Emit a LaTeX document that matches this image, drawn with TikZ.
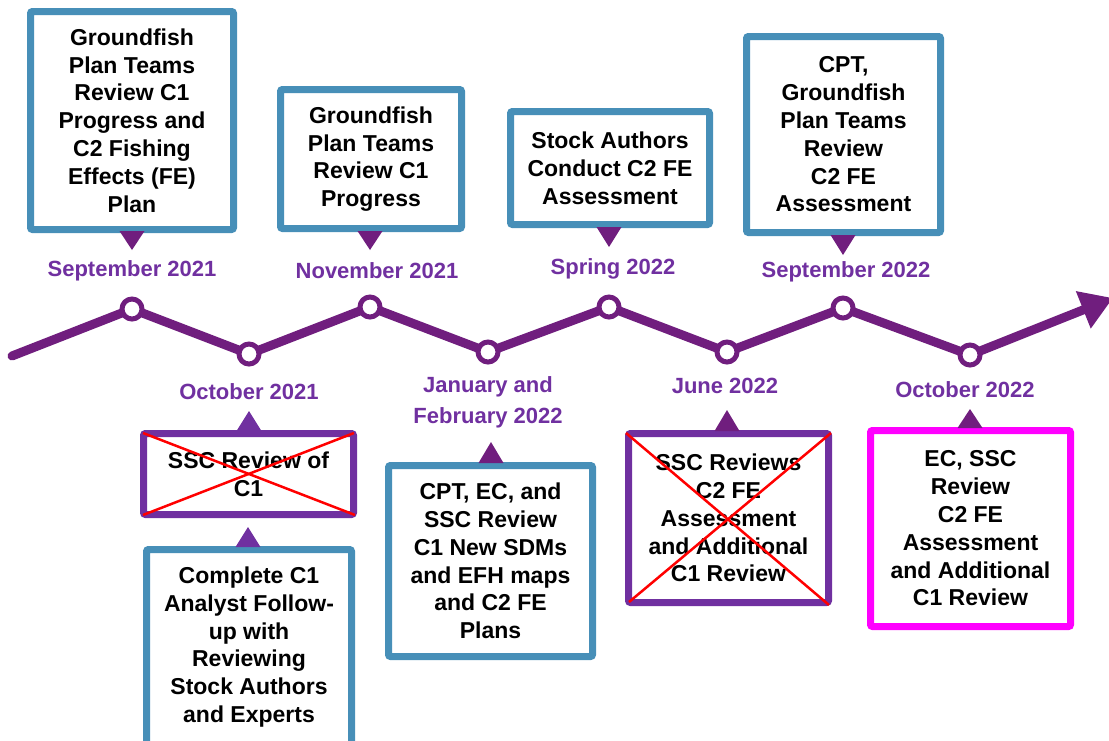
\documentclass[tikz,border=0pt]{standalone}
\usepackage{fontspec}
\setmainfont{Liberation Sans}
\usetikzlibrary{arrows.meta,calc}
\definecolor{tlpurple}{HTML}{701E7E}
\definecolor{labpurple}{HTML}{7030A0}
\definecolor{boxblue}{HTML}{478FB8}
\definecolor{boxmag}{HTML}{FF00FF}
\definecolor{xred}{HTML}{FF0000}
\newcommand\tridown[4]{\fill[#4] ({#1-12.5},#2) -- ({#1+12.5},#2) -- (#1,#3) -- cycle;}
\begin{document}
\begin{tikzpicture}[x=1pt,y=-1pt,
  every node/.style={font=\bfseries},
  evbox/.style={draw=boxblue,line width=7pt,fill=white,rounded corners=2pt,align=center,inner sep=0pt,
     font=\bfseries\fontsize{23}{27.8}\selectfont},
  xbox/.style={evbox,draw=labpurple},
  mbox/.style={evbox,draw=boxmag},
  datelab/.style={text=labpurple,align=center,inner sep=0pt,font=\bfseries\fontsize{22}{31}\selectfont},
  dot/.style={circle,draw=tlpurple,fill=white,line width=5pt,minimum size=20pt,inner sep=0pt},
  tline/.style={draw=tlpurple,line width=9pt,line cap=round,line join=round},
  xline/.style={draw=xred,line width=2.5pt}]
\useasboundingbox (0,0) rectangle (1109,740);

% timeline points
\coordinate (s) at (12,356);
\coordinate (p1) at (132,309);
\coordinate (p2) at (249,354);
\coordinate (p3) at (370,307);
\coordinate (p4) at (488,352);
\coordinate (p5) at (609,307);
\coordinate (p6) at (727,352);
\coordinate (p7) at (843,308);
\coordinate (p8) at (970,355);
\coordinate (e) at (1113,298);

\draw[tline,-{Triangle[length=32pt,width=38pt]}] (s) -- (p1) -- (p2) -- (p3) -- (p4) -- (p5) -- (p6) -- (p7) -- (p8) -- (e);

\foreach \i in {1,...,8} {\node[dot] (c\i) at (p\i) {};}

% upper boxes
\node[evbox,minimum width=203pt,minimum height=218pt] (b1) at (132,120.5)
  {Groundfish\\Plan Teams\\Review C1\\Progress and\\C2 Fishing\\Effects (FE)\\Plan};
\node[evbox,minimum width=181pt,minimum height=139pt] (b2) at (371,159)
  {Groundfish\\Plan Teams\\Review C1\\Progress};
\node[evbox,minimum width=199pt,minimum height=113pt] (b3) at (610,168)
  {Stock Authors\\Conduct C2 FE\\Assessment};
\node[evbox,minimum width=194pt,minimum height=196pt] (b4) at (843.5,134.5)
  {CPT,\\Groundfish\\Plan Teams\\Review\\C2 FE\\Assessment};

% lower boxes
\node[xbox,minimum width=210pt,minimum height=81pt] (b5) at (248.5,474)
  {SSC Review of\\C1};
\node[evbox,minimum width=205pt,minimum height=195pt] (b6) at (249,647)
  {Complete C1\\Analyst Follow-\\up with\\Reviewing\\Stock Authors\\and Experts};
\node[evbox,minimum width=204pt,minimum height=191pt] (b7) at (490.5,561)
  {CPT, EC, and\\SSC Review\\C1 New SDMs\\and EFH maps\\and C2 FE\\Plans};
\node[xbox,minimum width=200pt,minimum height=169pt] (b8) at (728.5,518)
  {SSC Reviews\\C2 FE\\Assessment\\and Additional\\C1 Review};
\node[mbox,minimum width=200pt,minimum height=196pt] (b9) at (970.5,528.5)
  {EC, SSC\\Review\\C2 FE\\Assessment\\and Additional\\C1 Review};

% crosses
\draw[xline] ($(b5.north west)+(3,3)$) -- ($(b5.south east)+(-2,-3)$);
\draw[xline] ($(b5.south west)+(3,-3)$) -- ($(b5.north east)+(-3,3)$);
\draw[xline] ($(b8.north west)+(1,3)$) -- ($(b8.south east)+(-3,-1)$);
\draw[xline] ($(b8.south west)+(4,-4)$) -- ($(b8.north east)+(-1,3)$);

% pointers
\tridown{132}{231}{250}{tlpurple}
\tridown{370}{231}{250}{tlpurple}
\tridown{609}{227}{247}{tlpurple}
\tridown{843}{235}{255}{tlpurple}
\tridown{249}{431}{411}{labpurple}
\tridown{248}{547}{527}{labpurple}
\tridown{491}{463}{442}{tlpurple}
\tridown{727}{431}{410}{tlpurple}
\tridown{970}{428}{409}{tlpurple}

% date labels
\node[datelab] (l1) at (132,271) {September 2021};
\node[datelab] (l2) at (377,271) {November 2021};
\node[datelab] (l3) at (613,269) {Spring 2022};
\node[datelab] (l4) at (846,272) {September 2022};
\node[datelab] (l5) at (249,392) {October 2021};
\node[datelab] (l6) at (488,402) {January and\\February 2022};
\node[datelab] (l7) at (725,386) {June 2022};
\node[datelab] (l8) at (965,390) {October 2022};
\end{tikzpicture}
\end{document}
